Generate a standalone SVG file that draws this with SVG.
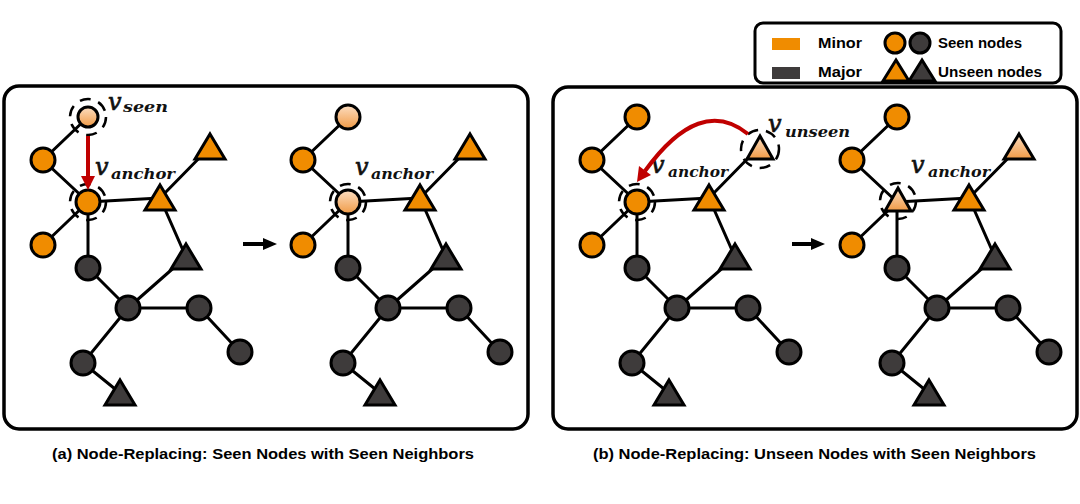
<svg xmlns="http://www.w3.org/2000/svg" xmlns:xlink="http://www.w3.org/1999/xlink" width="1080" height="504" viewBox="0 0 1080 504">
<defs>
<linearGradient id="lg" x1="0" y1="0" x2="0" y2="1">
<stop offset="0" stop-color="#FCDEC2"/>
<stop offset="1" stop-color="#F09A45"/>
</linearGradient>
<polygon id="tri" points="0,-13 15,12 -15,12"/>
<polygon id="triS" points="0,-11 13,10 -13,10"/>
<style>
.e{stroke:#000;stroke-width:3;fill:none}
.o{fill:#F08C00;stroke:#000;stroke-width:3}
.d{fill:#3E3B3B;stroke:#000;stroke-width:3}
.l{fill:url(#lg);stroke:#000;stroke-width:3}
.ring{fill:none;stroke:#000;stroke-width:2.5;stroke-dasharray:11 8}
.box{fill:#fff;stroke:#000;stroke-width:3.5}
.v{font-family:"DejaVu Serif",serif;font-style:italic;font-size:24px;fill:#111;stroke:#111;stroke-width:0.7}
.sub{font-family:"DejaVu Serif",serif;font-style:italic;font-weight:bold;font-size:14px;fill:#111}
.cap{font-family:"Liberation Sans",sans-serif;font-weight:bold;font-size:15px}
.leg{font-family:"Liberation Sans",sans-serif;font-weight:bold;font-size:14px}
.red{fill:#C00000}
</style>
</defs>
<rect x="0" y="0" width="1080" height="504" fill="#fff"/>

<!-- panel boxes -->
<rect id="panelA" class="box" x="4" y="86" width="524" height="343" rx="15"/>
<rect id="panelB" class="box" x="553" y="87" width="524" height="342" rx="15"/>

<!-- legend -->
<g id="legend">
<rect x="755" y="23" width="306" height="60" rx="8" fill="#fff" stroke="#000" stroke-width="3"/>
<rect x="772" y="38" width="28" height="12" fill="#F08C00"/>
<rect x="772" y="67" width="28" height="12" fill="#3E3B3B"/>
<text class="leg" x="818" y="48" textLength="44" lengthAdjust="spacingAndGlyphs">Minor</text>
<text class="leg" x="818" y="77" textLength="44" lengthAdjust="spacingAndGlyphs">Major</text>
<circle class="o" cx="895" cy="43" r="10"/>
<circle class="d" cx="920" cy="43" r="10"/>
<use href="#triS" class="o" x="896" y="71"/>
<use href="#triS" class="d" x="922" y="71"/>
<text class="leg" x="938" y="48" textLength="84" lengthAdjust="spacingAndGlyphs">Seen nodes</text>
<text class="leg" x="938" y="77" textLength="104" lengthAdjust="spacingAndGlyphs">Unseen nodes</text>
</g>

<!-- ===== graph a-left ===== -->
<g id="graphA1">
<g id="a1-edges" class="e">
<path d="M88,117 L43,160 L88,202 M88,202 L43,245 M88,202 L160,198 M88,202 L88,268 M160,198 L210,147 M160,198 L186,257 M88,268 L128,308 M128,308 L186,257 M128,308 L199,308 L240,352 M128,308 L83,363 L120,393"/>
</g>
<g id="a1-seen"><circle class="l" cx="88" cy="117" r="10" stroke-width="2.5"/><circle class="ring" cx="88" cy="117" r="18"/></g>
<g id="a1-n2"><circle class="o" cx="43" cy="160" r="12"/></g>
<g id="a1-anchor"><circle class="o" cx="88" cy="202" r="12"/><circle class="ring" cx="88" cy="202" r="18"/></g>
<g id="a1-n4"><circle class="o" cx="43" cy="245" r="12"/></g>
<g id="a1-t1"><use href="#tri" class="o" x="160" y="198"/></g>
<g id="a1-t2"><use href="#tri" class="o" x="210" y="147"/></g>
<g id="a1-t3"><use href="#tri" class="d" x="186" y="257"/></g>
<g id="a1-d1"><circle class="d" cx="88" cy="268" r="12"/></g>
<g id="a1-d2"><circle class="d" cx="128" cy="308" r="12"/></g>
<g id="a1-d3"><circle class="d" cx="199" cy="308" r="12"/></g>
<g id="a1-d4"><circle class="d" cx="240" cy="352" r="12"/></g>
<g id="a1-d5"><circle class="d" cx="83" cy="363" r="12"/></g>
<g id="a1-t4"><use href="#tri" class="d" x="120" y="393"/></g>
<g id="a1-labels">
<text class="v" x="108" y="110">v</text><text class="sub" x="123" y="112" textLength="45" lengthAdjust="spacingAndGlyphs">seen</text>
<text class="v" x="95" y="175">v</text><text class="sub" x="111" y="179" textLength="64" lengthAdjust="spacingAndGlyphs">anchor</text>
</g>
<g id="a1-redarrow"><line x1="88" y1="136" x2="88" y2="178" stroke="#C00000" stroke-width="4"/><polygon class="red" points="88,190 81,176 95,176"/></g>
</g>

<g id="arrowA"><line x1="243" y1="244" x2="265" y2="244" stroke="#000" stroke-width="4"/><polygon points="263,238 277,244 263,250" fill="#000"/></g>

<!-- ===== graph a-right ===== -->
<g id="graphA2" transform="translate(260,0)">
<g id="a2-edges" class="e">
<path d="M88,117 L43,160 L88,202 M88,202 L43,245 M88,202 L160,198 M88,202 L88,268 M160,198 L210,147 M160,198 L186,257 M88,268 L128,308 M128,308 L186,257 M128,308 L199,308 L240,352 M128,308 L83,363 L120,393"/>
</g>
<g id="a2-n1"><circle class="l" cx="88" cy="117" r="12"/></g>
<g id="a2-n2"><circle class="o" cx="43" cy="160" r="12"/></g>
<g id="a2-anchor"><circle class="l" cx="88" cy="202" r="12"/><circle class="ring" cx="88" cy="202" r="18"/></g>
<g id="a2-n4"><circle class="o" cx="43" cy="245" r="12"/></g>
<g id="a2-t1"><use href="#tri" class="o" x="160" y="198"/></g>
<g id="a2-t2"><use href="#tri" class="o" x="210" y="147"/></g>
<g id="a2-t3"><use href="#tri" class="d" x="186" y="257"/></g>
<g id="a2-d1"><circle class="d" cx="88" cy="268" r="12"/></g>
<g id="a2-d2"><circle class="d" cx="128" cy="308" r="12"/></g>
<g id="a2-d3"><circle class="d" cx="199" cy="308" r="12"/></g>
<g id="a2-d4"><circle class="d" cx="240" cy="352" r="12"/></g>
<g id="a2-d5"><circle class="d" cx="83" cy="363" r="12"/></g>
<g id="a2-t4"><use href="#tri" class="d" x="120" y="393"/></g>
<g id="a2-labels">
<text class="v" x="95" y="175">v</text><text class="sub" x="111" y="179" textLength="62" lengthAdjust="spacingAndGlyphs">anchor</text>
</g>
</g>

<!-- ===== graph b-left ===== -->
<g id="graphB1" transform="translate(549,0)">
<g id="b1-edges" class="e">
<path d="M88,117 L43,160 L88,202 M88,202 L43,245 M88,202 L160,198 M88,202 L88,268 M160,198 L210,147 M160,198 L186,257 M88,268 L128,308 M128,308 L186,257 M128,308 L199,308 L240,352 M128,308 L83,363 L120,393"/>
</g>
<g id="b1-n1"><circle class="o" cx="88" cy="117" r="12"/></g>
<g id="b1-n2"><circle class="o" cx="43" cy="160" r="12"/></g>
<g id="b1-anchor"><circle class="o" cx="88" cy="202" r="12"/><circle class="ring" cx="88" cy="202" r="18"/></g>
<g id="b1-n4"><circle class="o" cx="43" cy="245" r="12"/></g>
<g id="b1-t1"><use href="#tri" class="o" x="160" y="198"/></g>
<g id="b1-unseen"><polygon class="l" points="211,136 224,159 198,159"/><circle class="ring" cx="211" cy="149" r="19"/></g>
<g id="b1-t3"><use href="#tri" class="d" x="186" y="257"/></g>
<g id="b1-d1"><circle class="d" cx="88" cy="268" r="12"/></g>
<g id="b1-d2"><circle class="d" cx="128" cy="308" r="12"/></g>
<g id="b1-d3"><circle class="d" cx="199" cy="308" r="12"/></g>
<g id="b1-d4"><circle class="d" cx="240" cy="352" r="12"/></g>
<g id="b1-d5"><circle class="d" cx="83" cy="363" r="12"/></g>
<g id="b1-t4"><use href="#tri" class="d" x="120" y="393"/></g>
<g id="b1-labels">
<text class="v" x="219" y="132">v</text><text class="sub" x="236" y="137" textLength="65" lengthAdjust="spacingAndGlyphs">unseen</text>
<text class="v" x="102" y="173">v</text><text class="sub" x="119" y="177" textLength="60" lengthAdjust="spacingAndGlyphs">anchor</text>
</g>
</g>
<g id="b1-redarrow"><path d="M748,134 Q700,95 645,171" fill="none" stroke="#C00000" stroke-width="4"/><polygon class="red" points="637,182 651,175 639,166"/></g>

<g id="arrowB"><line x1="792" y1="244" x2="813" y2="244" stroke="#000" stroke-width="4"/><polygon points="811,238 825,244 811,250" fill="#000"/></g>

<!-- ===== graph b-right ===== -->
<g id="graphB2" transform="translate(809,0)">
<g id="b2-edges" class="e">
<path d="M88,117 L43,160 L88,202 M88,202 L43,245 M88,202 L160,198 M88,202 L88,268 M160,198 L210,147 M160,198 L186,257 M88,268 L128,308 M128,308 L186,257 M128,308 L199,308 L240,352 M128,308 L83,363 L120,393"/>
</g>
<g id="b2-n1"><circle class="o" cx="88" cy="117" r="12"/></g>
<g id="b2-n2"><circle class="o" cx="43" cy="160" r="12"/></g>
<g id="b2-anchor"><polygon class="l" points="89,188 102,211 76,211"/><circle class="ring" cx="89" cy="201" r="18"/></g>
<g id="b2-n4"><circle class="o" cx="43" cy="245" r="12"/></g>
<g id="b2-t1"><use href="#tri" class="o" x="160" y="198"/></g>
<g id="b2-t2"><use href="#tri" class="l" x="210" y="147"/></g>
<g id="b2-t3"><use href="#tri" class="d" x="186" y="257"/></g>
<g id="b2-d1"><circle class="d" cx="88" cy="268" r="12"/></g>
<g id="b2-d2"><circle class="d" cx="128" cy="308" r="12"/></g>
<g id="b2-d3"><circle class="d" cx="199" cy="308" r="12"/></g>
<g id="b2-d4"><circle class="d" cx="240" cy="352" r="12"/></g>
<g id="b2-d5"><circle class="d" cx="83" cy="363" r="12"/></g>
<g id="b2-t4"><use href="#tri" class="d" x="120" y="393"/></g>
<g id="b2-labels">
<text class="v" x="102" y="173">v</text><text class="sub" x="119" y="177" textLength="62" lengthAdjust="spacingAndGlyphs">anchor</text>
</g>
</g>

<text class="cap" x="52" y="459" textLength="422" lengthAdjust="spacingAndGlyphs">(a) Node-Replacing: Seen Nodes with Seen Neighbors</text>
<text class="cap" x="593" y="459" textLength="443" lengthAdjust="spacingAndGlyphs">(b) Node-Replacing: Unseen Nodes with Seen Neighbors</text>
</svg>
